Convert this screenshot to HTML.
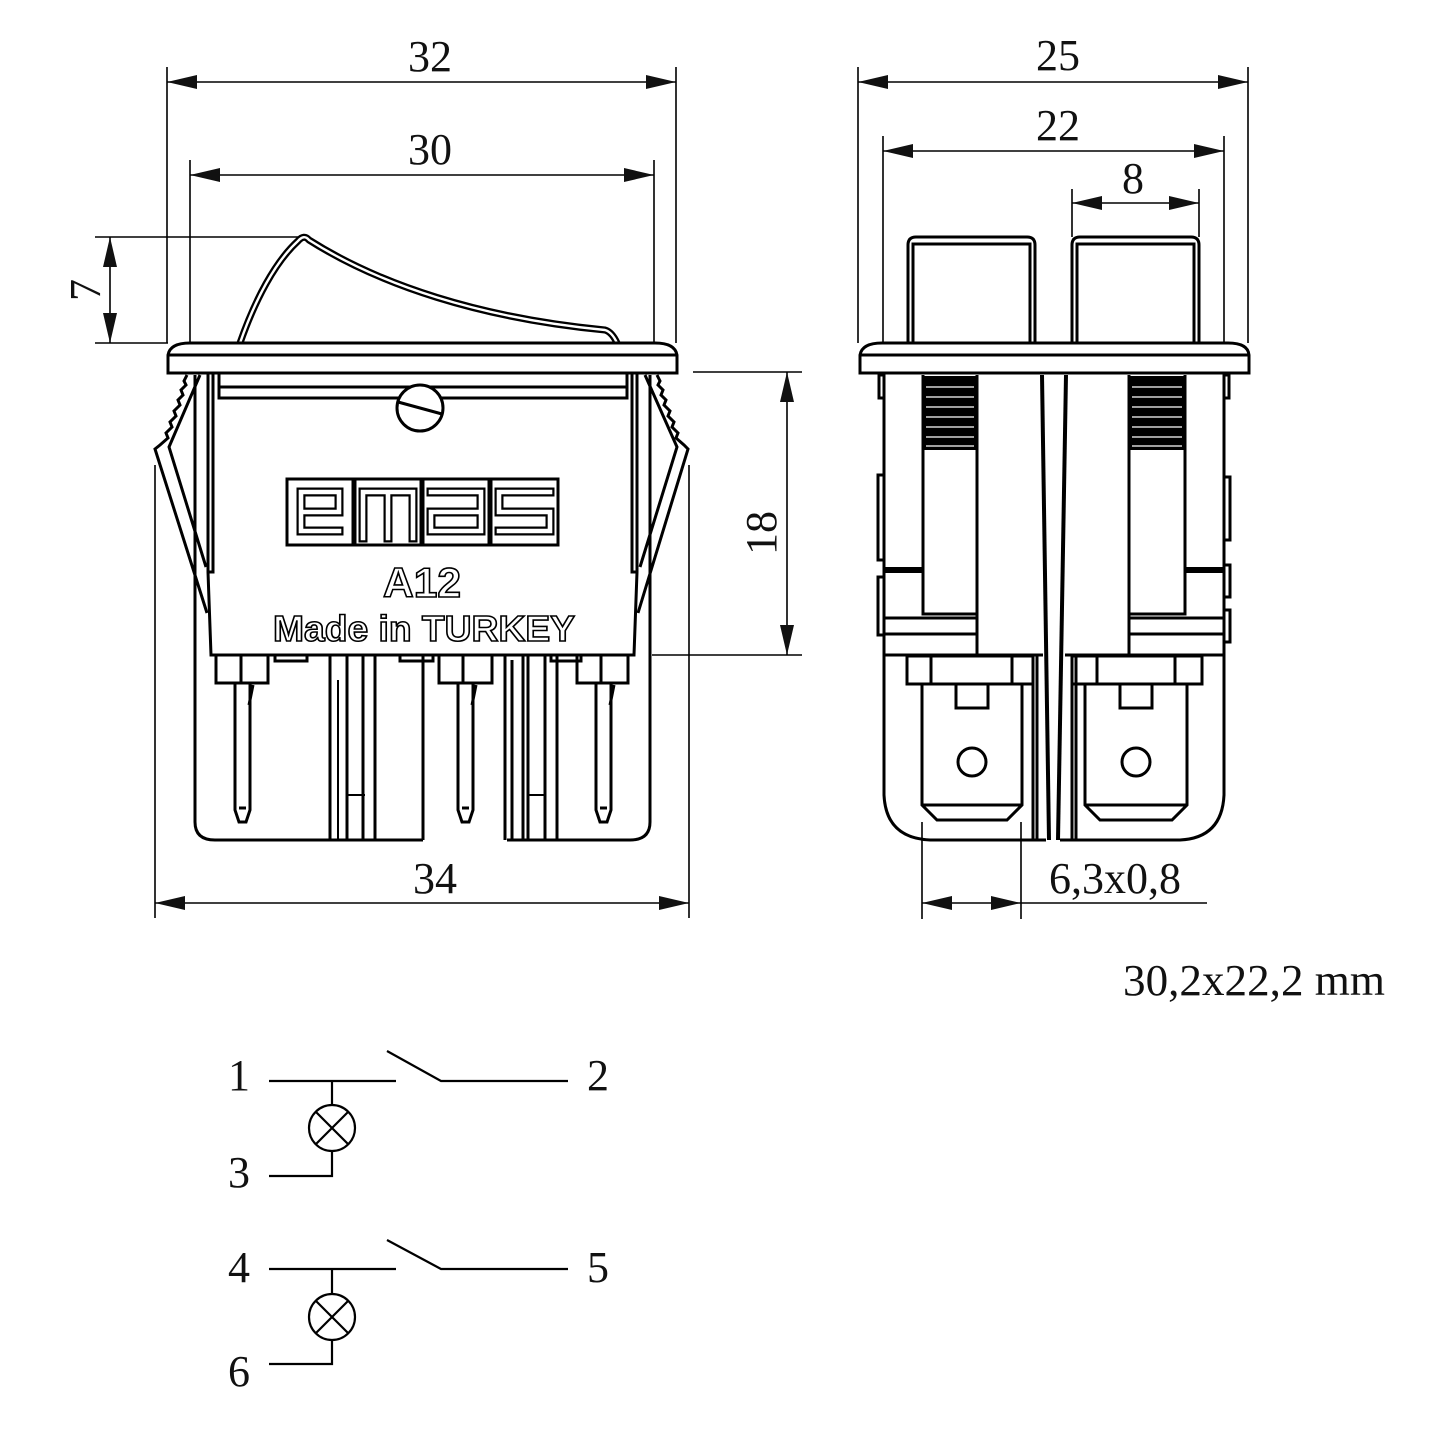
<!DOCTYPE html>
<html><head><meta charset="utf-8"><style>
html,body{margin:0;padding:0;background:#fff}
svg{display:block}
.s{stroke:#000;fill:none;stroke-width:3;stroke-linejoin:miter}
.sw{stroke:#000;fill:#fff;stroke-width:3}
.d{stroke:#000;fill:none;stroke-width:1.6}
.a{fill:#111;stroke:none}
.t{font-family:"Liberation Serif",serif;font-size:44px;fill:#111}
.o{font-family:"Liberation Sans",sans-serif;font-weight:bold;fill:#fff;stroke:#000;stroke-width:1.6}
</style></head><body>
<svg width="1454" height="1456" viewBox="0 0 1454 1456" xmlns="http://www.w3.org/2000/svg">
<rect width="1454" height="1456" fill="#fff"/>

<!-- ============ LEFT VIEW: DIMENSIONS ============ -->
<g class="d">
<path d="M167 67 V343 M676 67 V343 M167 82 H676"/>
<path d="M190 160 V343 M654 160 V343 M190 175 H654"/>
<path d="M95 237 H298 M95 343 H168 M110 237 V343"/>
<path d="M693 372 H802 M652 655 H802 M787 372 V655"/>
<path d="M155 465 V918 M689 465 V918 M155 903 H689"/>
</g>
<g class="a">
<polygon points="167,82 197,75 197,89"/><polygon points="676,82 646,75 646,89"/>
<polygon points="190,175 220,168 220,182"/><polygon points="654,175 624,168 624,182"/>
<polygon points="110,237 103,267 117,267"/><polygon points="110,343 103,313 117,313"/>
<polygon points="787,372 780,402 794,402"/><polygon points="787,655 780,625 794,625"/>
<polygon points="155,903 185,896 185,910"/><polygon points="689,903 659,896 659,910"/>
</g>
<text class="t" x="430" y="71" text-anchor="middle">32</text>
<text class="t" x="430" y="164" text-anchor="middle">30</text>
<text class="t" transform="translate(100,290) rotate(-90)" text-anchor="middle">7</text>
<text class="t" transform="translate(776,533) rotate(-90)" text-anchor="middle">18</text>
<text class="t" x="435" y="893" text-anchor="middle">34</text>

<!-- ============ LEFT VIEW: BODY ============ -->
<!-- rocker -->
<path d="M240 343 C255 300 275 262 298 241 Q304 234 309 240 C380 285 480 318 605 330 Q612 332 617 343" stroke="#000" stroke-width="7" fill="none"/>
<path d="M240 343 C255 300 275 262 298 241 Q304 234 309 240 C380 285 480 318 605 330 Q612 332 617 343" stroke="#fff" stroke-width="2.4" fill="none"/>
<!-- flange -->
<path class="sw" d="M168 373 V355 Q170 343 190 343 H655 Q675 343 677 355 V373 Z"/>
<path class="s" d="M168 355 H677"/>

<!-- housing lower + thick sides -->
<path class="s" stroke-width="3.5" d="M195 375 V822 Q195 840 215 840 H423"/>
<path class="s" stroke-width="3.5" d="M507 840 H630 Q650 840 650 822 V375"/>

<!-- clips -->
<path class="s" stroke-width="2.8" d="M187 375 L184 381 L186 385 L181 390 L183 395 L178 400 L180 405 L174 411 L176 416 L170 422 L172 427 L166 433 L168 438 L160 445 L155 449 L207 613"/>
<path class="s" stroke-width="2.8" d="M200 375 L169 447 L206 567"/>
<path class="s" stroke-width="2.8" d="M657 375 L660 381 L658 385 L663 390 L661 395 L666 400 L664 405 L670 411 L668 416 L674 422 L672 427 L678 433 L676 438 L684 445 L688 449 L638 613"/>
<path class="s" stroke-width="2.8" d="M645 375 L677 447 L640 567"/>

<!-- main body -->
<path class="sw" d="M208 373 V572 L211 655 H634 L637 572 V373 Z"/>
<path class="s" d="M213 373 V572 H208 M632 373 V572 H637"/>
<path class="s" d="M219 373 V398 H627 V373 M219 387 H627"/>
<circle cx="420" cy="408" r="23" class="sw"/>
<path class="s" d="M398 402 L442 414"/>

<!-- logo -->
<g class="s" stroke-width="2.5">
<rect x="287" y="479" width="66" height="66"/>
<rect x="355" y="479" width="66" height="66"/>
<rect x="423" y="479" width="66" height="66"/>
<rect x="491" y="479" width="67" height="66"/>
</g>
<g fill="none" stroke-linecap="square" stroke-linejoin="miter">
<path d="M339 531 H301 V492 H339 V512 H301" stroke="#000" stroke-width="9"/>
<path d="M339 531 H301 V492 H339 V512 H301" stroke="#fff" stroke-width="4.6"/>
<path d="M363 538 V492 H413 V538 M388 492 V538" stroke="#000" stroke-width="9"/>
<path d="M363 538 V492 H413 V538 M388 492 V538" stroke="#fff" stroke-width="4.6"/>
<path d="M431 492 H481 V531 H431 V512 H481" stroke="#000" stroke-width="9"/>
<path d="M431 492 H481 V531 H431 V512 H481" stroke="#fff" stroke-width="4.6"/>
<path d="M550 492 H499 V512 H550 V531 H499" stroke="#000" stroke-width="9"/>
<path d="M550 492 H499 V512 H550 V531 H499" stroke="#fff" stroke-width="4.6"/>
</g>
<text class="o" x="422" y="597" text-anchor="middle" font-size="42" textLength="78" lengthAdjust="spacingAndGlyphs">A12</text>
<text class="o" x="424" y="641" text-anchor="middle" font-size="36" textLength="302" lengthAdjust="spacingAndGlyphs">Made in TURKEY</text>

<!-- small tabs under body -->
<g class="s" stroke-width="2.5">
<rect x="275" y="655" width="32" height="6"/>
<rect x="400" y="655" width="33" height="6"/>
<rect x="551" y="655" width="30" height="6"/>
</g>

<!-- terminal blocks (side) -->
<g class="s">
<path d="M330 655 V840 M347 655 V840 M363 655 V840 M375 655 V840 M423 655 V840"/>
<path d="M338 680 V840" stroke-width="2"/>
<path d="M347 795 H365" stroke-width="2"/>
<path d="M505 655 V840 M512 660 V840 M523 655 V840 M528 655 V840 M545 655 V840 M557 655 V840"/>
<path d="M528 795 H545" stroke-width="2"/>
</g>

<!-- pins -->
<g class="s" stroke-width="2.8">
<rect x="216" y="655" width="52" height="28"/><path d="M241 655 V683"/>
<path d="M235 683 V810 L239 822 H246 L250 810 V683 M239 808 H246 M253 685 L249 705"/>
<rect x="439" y="655" width="53" height="28"/><path d="M463 655 V683"/>
<path d="M458 683 V810 L462 822 H469 L473 810 V683 M462 808 H469 M476 685 L472 705"/>
<rect x="577" y="655" width="51" height="28"/><path d="M601 655 V683"/>
<path d="M596 683 V810 L600 822 H607 L611 810 V683 M600 808 H607 M614 685 L610 705"/>
</g>

<!-- ============ RIGHT VIEW: DIMENSIONS ============ -->
<g class="d">
<path d="M858 67 V343 M1248 67 V343 M858 82 H1248"/>
<path d="M883 136 V343 M1224 136 V343 M883 151 H1224"/>
<path d="M1072 189 V237 M1199 189 V237 M1072 203 H1199"/>
<path d="M922 822 V919 M1021 822 V919 M922 903 H1207"/>
</g>
<g class="a">
<polygon points="858,82 888,75 888,89"/><polygon points="1248,82 1218,75 1218,89"/>
<polygon points="883,151 913,144 913,158"/><polygon points="1224,151 1194,144 1194,158"/>
<polygon points="1072,203 1102,196 1102,210"/><polygon points="1199,203 1169,196 1169,210"/>
<polygon points="922,903 952,896 952,910"/><polygon points="1021,903 991,896 991,910"/>
</g>
<text class="t" x="1058" y="70" text-anchor="middle">25</text>
<text class="t" x="1058" y="140" text-anchor="middle">22</text>
<text class="t" x="1133" y="193" text-anchor="middle">8</text>
<text class="t" x="1115" y="893" text-anchor="middle">6,3x0,8</text>
<text class="t" x="1123" y="995" textLength="262" lengthAdjust="spacingAndGlyphs">30,2x22,2 mm</text>

<!-- ============ RIGHT VIEW: BODY ============ -->
<!-- rockers -->
<path class="sw" d="M908 343 V245 Q908 237 916 237 H1027 Q1035 237 1035 245 V343"/>
<path class="s" stroke-width="2.5" d="M913 343 V244 H1030 V343"/>
<path class="sw" d="M1072 343 V245 Q1072 237 1080 237 H1191 Q1199 237 1199 245 V343"/>
<path class="s" stroke-width="2.5" d="M1077 343 V244 H1194 V343"/>
<!-- flange -->
<path class="sw" d="M860 373 V355 Q862 343 882 343 H1228 Q1248 343 1249 355 V373 Z"/>
<path class="s" d="M860 355 H1249"/>

<!-- housing -->
<path class="s" stroke-width="3.5" d="M884 373 V795 Q886 838 930 840 H1046"/>
<path class="s" stroke-width="3.5" d="M1224 373 V795 Q1222 838 1180 840 H1060"/>

<!-- side notches -->
<g class="s" stroke-width="2.5">
<rect x="879" y="375" width="5" height="23"/>
<rect x="878" y="475" width="6" height="85"/>
<rect x="878" y="577" width="6" height="58"/>
<rect x="1224" y="375" width="5" height="23"/>
<rect x="1224" y="477" width="6" height="63"/>
<rect x="1224" y="565" width="6" height="32"/>
<rect x="1224" y="610" width="6" height="32"/>
</g>

<!-- columns -->
<g class="s">
<path d="M923 375 V614 H977 M977 375 V655"/>
<path d="M1185 375 V614 H1129 M1129 375 V655"/>
<path d="M884 618 H977 M884 634 H977 M1129 618 H1224 M1129 634 H1224"/>
<path d="M884 655 H1043 M1065 655 H1224"/>
</g>
<rect x="884" y="567" width="39" height="6" fill="#000"/>
<rect x="1185" y="567" width="39" height="6" fill="#000"/>
<!-- hatched -->
<rect x="923" y="376" width="54" height="74" fill="#000"/>
<rect x="1129" y="376" width="56" height="74" fill="#000"/>
<g stroke="#fff" stroke-width="1.3">
<path d="M926 387 H974 M926 397 H974 M926 407 H974 M926 417 H974 M926 427 H974 M926 437 H974 M926 446 H974"/>
<path d="M1132 387 H1182 M1132 397 H1182 M1132 407 H1182 M1132 417 H1182 M1132 427 H1182 M1132 437 H1182 M1132 446 H1182"/>
</g>

<!-- center lines -->
<path d="M1042 375 L1049 840" stroke="#000" stroke-width="4" fill="none"/>
<path d="M1066 375 L1058 840" stroke="#000" stroke-width="4" fill="none"/>
<path class="s" stroke-width="2" d="M1033 656 V840 M1037 656 V840 M1072 656 V840 M1076 656 V840"/>

<!-- terminal blocks -->
<g class="s" stroke-width="2.8">
<rect x="907" y="656" width="126" height="28"/>
<path d="M931 656 V684 M1012 656 V684"/>
<path d="M922 684 V805 L937 820 H1007 L1022 805 V684 M922 805 H1022"/>
<rect x="956" y="684" width="32" height="24"/>
<circle cx="972" cy="762" r="14"/>
<rect x="1072" y="656" width="130" height="28"/>
<path d="M1097 656 V684 M1175 656 V684"/>
<path d="M1085 684 V805 L1100 820 H1172 L1187 805 V684 M1085 805 H1187"/>
<rect x="1120" y="684" width="32" height="24"/>
<circle cx="1136" cy="762" r="14"/>
</g>

<!-- ============ SCHEMATIC ============ -->
<g stroke="#000" stroke-width="2.2" fill="none">
<path d="M269 1081 H396 M387 1051 L441 1081 H568 M332 1081 V1105 M332 1151 V1176 H269"/>
<circle cx="332" cy="1128" r="23"/>
<path d="M316 1112 L348 1144 M348 1112 L316 1144"/>
<path d="M269 1269 H396 M387 1240 L441 1269 H568 M332 1269 V1294 M332 1340 V1364 H269"/>
<circle cx="332" cy="1317" r="23"/>
<path d="M316 1301 L348 1333 M348 1301 L316 1333"/>
</g>
<text class="t" x="239" y="1090" text-anchor="middle">1</text>
<text class="t" x="598" y="1090" text-anchor="middle">2</text>
<text class="t" x="239" y="1187" text-anchor="middle">3</text>
<text class="t" x="239" y="1282" text-anchor="middle">4</text>
<text class="t" x="598" y="1282" text-anchor="middle">5</text>
<text class="t" x="239" y="1386" text-anchor="middle">6</text>
</svg>
</body></html>
